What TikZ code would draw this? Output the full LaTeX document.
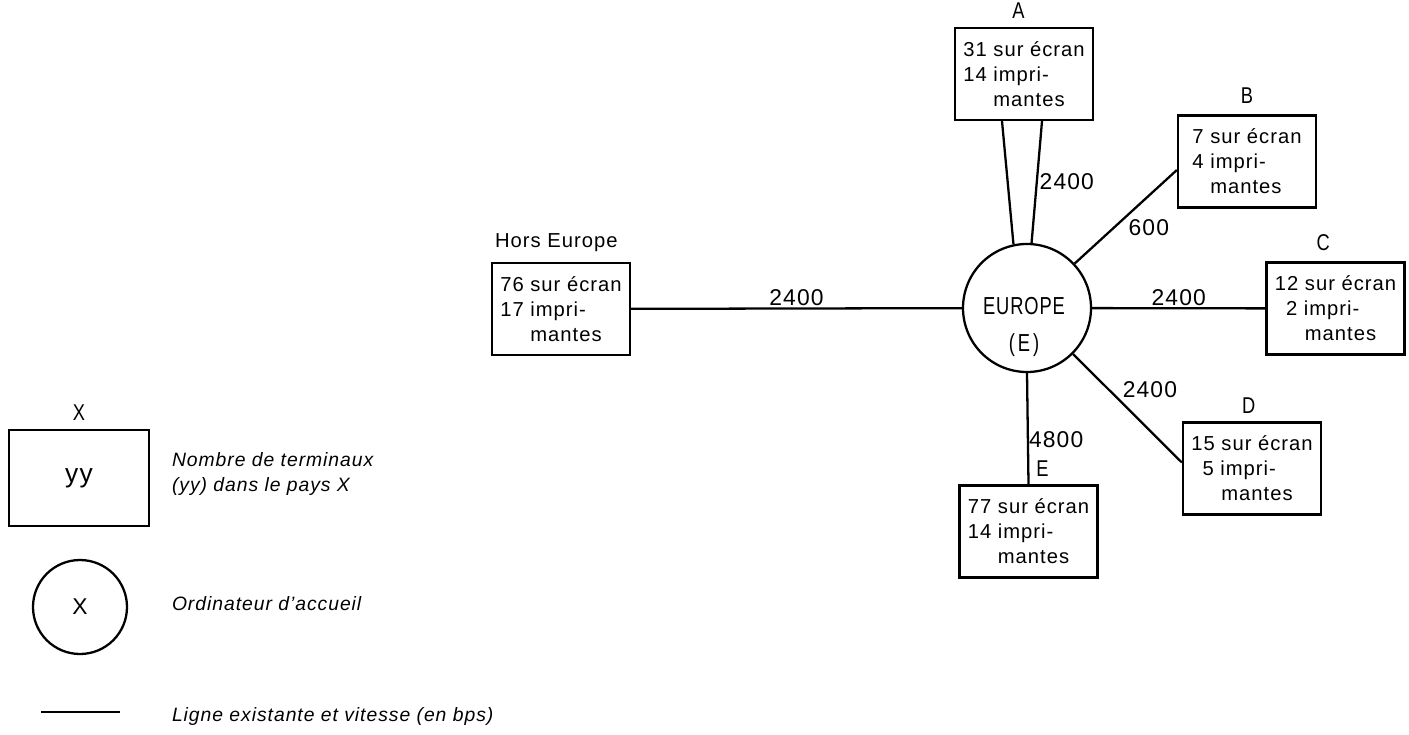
\documentclass[tikz,border=0pt]{standalone}
\usepackage{fontspec}
\setmainfont{Liberation Sans}[LetterSpace=5]
\usepackage{tikz}
\usetikzlibrary{positioning}

\begin{document}
\begin{tikzpicture}[auto, font=\fontsize{11.5}{14.2}\selectfont, line width=1.3pt]
	\tikzstyle{pays} = [draw=black, rectangle, minimum width=2.76cm, minimum height=1.84cm, align=left, inner sep=2pt]
	\tikzstyle{accueil} = [draw=black, circle, inner sep=0pt]
	\tikzstyle{lettre} = [font=\fontsize{13}{15}\selectfont, inner sep=1pt, xscale=0.8, transform shape]
	\tikzstyle{vitesse} = [font=\fontsize{13}{15}\selectfont, inner sep=1pt]
	\tikzstyle{legende} = [font=\fontsize{11}{14.2}\selectfont\itshape, align=left, anchor=west]
	
	\useasboundingbox (0, 0) rectangle (28.18, 14.68);
	
	% reseau
	\node[accueil, minimum size=2.56cm]	at (20.54, 8.52)	(eu)	{};
	\node[lettre, xscale=0.93, font=\fontsize{14}{21.5}\selectfont, align=center] at (20.48, 8.14) (eutxt) {EUROPE\\(\,E\,)};
	
	\node[pays]	at (11.22, 8.5)		(h)		{76 sur écran\\17 impri-\\\phantom{17 }mantes};
	\node[pays]	at (20.48, 13.2)	(pa)	{31 sur écran\\14 impri-\\\phantom{14 }mantes};
	\node[pays]	at (24.94, 11.45)	(pb)	{7 sur écran\\4 impri-\\\phantom{4 }mantes};
	\node[pays]	at (26.71, 8.51)	(pc)	{12 sur écran\\\phantom{1}2 impri-\\\phantom{12 }mantes};
	\node[pays]	at (25.04, 5.31)	(pd)	{15 sur écran\\\phantom{1}5 impri-\\\phantom{15 }mantes};
	\node[pays]	at (20.57, 4.05)	(pe)	{77 sur écran\\14 impri-\\\phantom{14 }mantes};
	
	\node[above right=0.18cm and 0.06cm of h.north west, inner sep=0pt] (lh) {Hors Europe};
	\node[lettre, above=0.1cm of pa, xshift=-0.14cm]	(la)	{A};
	\node[lettre, above=0.15cm of pb]					(lb)	{B};
	\node[lettre, above=0.15cm of pc, xshift=-0.31cm]	(lc)	{C};
	\node[lettre, above=0.1cm of pd, xshift=-0.08cm]	(ld)	{D};
	\node[lettre, above=0.1cm of pe, xshift=0.35cm]		(le)	{E};
	
	\path[draw]
	(h) edge node[vitesse] {2400} (eu)
	(eu) edge node[vitesse] {2400} (pc)
	([xshift=-0.44cm]pa.south) edge (eu.102)
	([xshift=0.36cm]pa.south) edge node[vitesse, right] {2400} (eu.86)
	(eu.43) edge node[vitesse, below right] {600} ([yshift=-0.17cm]pb.west)
	(eu.-45) edge node[vitesse, pos=0.43, anchor=south west] {2400} ([yshift=0.12cm]pd.west)
	(eu.south) edge node[vitesse, pos=0.6, right, inner sep=0pt] {4800} (pe.north);
	
	% legende
	\node[pays, minimum width=2.8cm, minimum height=1.92cm, align=center, font=\fontsize{15}{17}\selectfont] at (1.58, 5.12) (lpays) {yy};
	\node[lettre, above=0.1cm of lpays]	(lx)	{X};
	\node[accueil, minimum size=1.88cm, font=\fontsize{13}{15}\selectfont] at (1.6, 2.54) (lacc) {X};
	\coordinate (l0) at (0.82, 0.44);
	\coordinate (l1) at (2.4, 0.44);
	\draw (l0) -- (l1);
	
	\node[legende] at (3.3, 5.2)	(t1)	{Nombre de terminaux\\(yy) dans le pays X};
	\node[legende] at (3.3, 2.6)	(t2)	{Ordinateur d'accueil};
	\node[legende] at (3.3, 0.36)	(t3)	{Ligne existante et vitesse (en bps)};
	
\end{tikzpicture}
\end{document}
